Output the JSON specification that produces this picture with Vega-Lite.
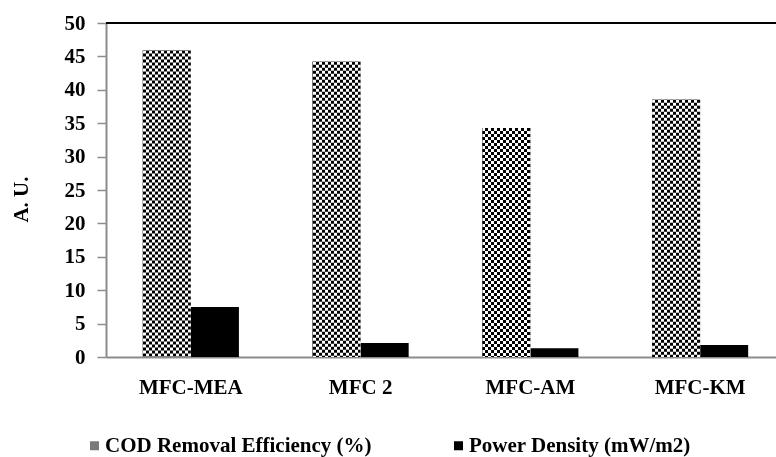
{
  "$schema": "https://vega.github.io/schema/vega-lite/v6.json",
  "width": 670,
  "height": 334,
  "autosize": {"type": "none"},
  "padding": {"left": 106, "top": 23, "right": 0, "bottom": 100},
  "background": "white",
  "config": {
    "view": {"stroke": null},
    "font": "Liberation Serif",
    "axis": {
      "labelFont": "Liberation Serif",
      "labelFontWeight": "bold",
      "labelFontSize": 21,
      "labelColor": "#000000",
      "labelOverlap": false,
      "titleFont": "Liberation Serif",
      "titleFontWeight": "bold",
      "titleFontSize": 21,
      "titleColor": "#000000",
      "domainColor": "#8c8c8c",
      "domainWidth": 2,
      "tickColor": "#8c8c8c",
      "grid": false
    }
  },
  "data": {
    "values": [
      {"system": "MFC-MEA", "series": "COD Removal Efficiency (%)", "value": 45.9},
      {"system": "MFC-MEA", "series": "Power Density (mW/m2)", "value": 7.5},
      {"system": "MFC 2", "series": "COD Removal Efficiency (%)", "value": 44.2},
      {"system": "MFC 2", "series": "Power Density (mW/m2)", "value": 2.1},
      {"system": "MFC-AM", "series": "COD Removal Efficiency (%)", "value": 34.3},
      {"system": "MFC-AM", "series": "Power Density (mW/m2)", "value": 1.3},
      {"system": "MFC-KM", "series": "COD Removal Efficiency (%)", "value": 38.5},
      {"system": "MFC-KM", "series": "Power Density (mW/m2)", "value": 1.8}
    ]
  },
  "layer": [
    {
      "mark": {"type": "bar"},
      "encoding": {
        "x": {
          "field": "system",
          "type": "nominal",
          "sort": ["MFC-MEA", "MFC 2", "MFC-AM", "MFC-KM"],
          "scale": {"range": [0, 679], "paddingInner": 0.434, "paddingOuter": 0.217},
          "axis": {"title": null, "labelAngle": 0, "ticks": false, "tickSize": 0, "labelPadding": 19, "labelBaseline": "top"}
        },
        "xOffset": {
          "field": "series",
          "type": "nominal",
          "scale": {"domain": ["COD Removal Efficiency (%)", "Power Density (mW/m2)"], "paddingInner": 0, "paddingOuter": 0}
        },
        "y": {
          "field": "value",
          "type": "quantitative",
          "scale": {"domain": [0, 50], "nice": false},
          "axis": {
            "title": "A. U.",
            "values": [0, 5, 10, 15, 20, 25, 30, 35, 40, 45, 50],
            "tickCount": 12,
            "labelOverlap": false,
            "tickSize": 9,
            "tickWidth": 1.5,
            "labelPadding": 12,
            "titleAngle": -90,
            "titleAlign": "center",
            "titleBaseline": "alphabetic",
            "titleX": -79,
            "titleY": 176
          }
        },
        "color": {
          "field": "series",
          "type": "nominal",
          "scale": {
            "domain": ["COD Removal Efficiency (%)", "Power Density (mW/m2)"],
            "range": ["#7a7a7a", "#000000"]
          },
          "legend": {
            "title": null,
            "orient": "none",
            "legendX": -22,
            "legendY": 412,
            "direction": "horizontal",
            "symbolType": "square",
            "symbolSize": 81,
            "symbolStrokeWidth": 0,
            "labelFont": "Liberation Serif",
            "labelFontWeight": "bold",
            "labelFontSize": 21,
            "labelColor": "#000000",
            "labelOffset": 0,
            "labelLimit": 400,
            "columnPadding": 76,
            "padding": 0
          }
        }
      }
    },
    {
      "transform": [{"filter": "datum.series === 'COD Removal Efficiency (%)'"}],
      "mark": {
        "type": "bar",
        "color": {
          "gradient": "linear",
          "x1": 0, "y1": 0, "x2": 1, "y2": 0,
          "stops": [
            {"offset": 0, "color": "#000000"}, {"offset": 0.0625, "color": "#000000"},
            {"offset": 0.0625, "color": "#ffffff"}, {"offset": 0.125, "color": "#ffffff"},
            {"offset": 0.125, "color": "#000000"}, {"offset": 0.1875, "color": "#000000"},
            {"offset": 0.1875, "color": "#ffffff"}, {"offset": 0.25, "color": "#ffffff"},
            {"offset": 0.25, "color": "#000000"}, {"offset": 0.3125, "color": "#000000"},
            {"offset": 0.3125, "color": "#ffffff"}, {"offset": 0.375, "color": "#ffffff"},
            {"offset": 0.375, "color": "#000000"}, {"offset": 0.4375, "color": "#000000"},
            {"offset": 0.4375, "color": "#ffffff"}, {"offset": 0.5, "color": "#ffffff"},
            {"offset": 0.5, "color": "#000000"}, {"offset": 0.5625, "color": "#000000"},
            {"offset": 0.5625, "color": "#ffffff"}, {"offset": 0.625, "color": "#ffffff"},
            {"offset": 0.625, "color": "#000000"}, {"offset": 0.6875, "color": "#000000"},
            {"offset": 0.6875, "color": "#ffffff"}, {"offset": 0.75, "color": "#ffffff"},
            {"offset": 0.75, "color": "#000000"}, {"offset": 0.8125, "color": "#000000"},
            {"offset": 0.8125, "color": "#ffffff"}, {"offset": 0.875, "color": "#ffffff"},
            {"offset": 0.875, "color": "#000000"}, {"offset": 0.9375, "color": "#000000"},
            {"offset": 0.9375, "color": "#ffffff"}, {"offset": 1, "color": "#ffffff"}
          ]
        }
      },
      "encoding": {
        "x": {"field": "system", "type": "nominal", "sort": ["MFC-MEA", "MFC 2", "MFC-AM", "MFC-KM"]},
        "xOffset": {"field": "series", "type": "nominal"},
        "y": {"field": "value", "type": "quantitative"}
      }
    },
    {
      "transform": [{"filter": "datum.series === 'COD Removal Efficiency (%)'"}],
      "mark": {"type": "rule", "color": "#ffffff", "strokeWidth": 48, "strokeCap": "butt", "strokeDash": [3, 3], "blend": "difference"},
      "encoding": {
        "x": {"field": "system", "type": "nominal", "sort": ["MFC-MEA", "MFC 2", "MFC-AM", "MFC-KM"]},
        "xOffset": {"field": "series", "type": "nominal"},
        "y": {"field": "value", "type": "quantitative"},
        "y2": {"datum": 0}
      }
    },
    {
      "mark": {"type": "rule", "color": "#000000", "strokeWidth": 2},
      "encoding": {
        "y": {"datum": 50, "type": "quantitative"}
      }
    }
  ]
}
